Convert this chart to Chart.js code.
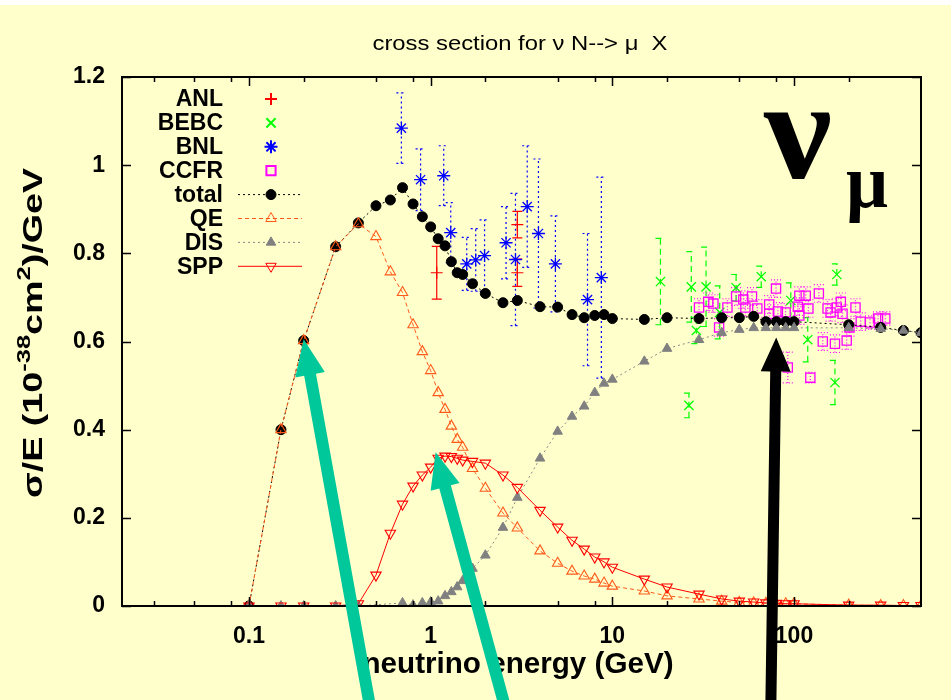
<!DOCTYPE html>
<html>
<head>
<meta charset="utf-8">
<script src="https://cdn.jsdelivr.net/npm/chart.js@4.4.0/dist/chart.umd.min.js"></script>
<style>
  html, body { margin: 0; padding: 0; background: #ffffcc; }
  canvas { display: block; }
</style>
</head>
<body>
<canvas id="myChart" width="951" height="700"></canvas>
<script>
// model curves (GeV, 10^-38 cm^2 / GeV)
const energias = [0.1, 0.15, 0.2, 0.3, 0.4, 0.5, 0.6, 0.7, 0.8, 0.9, 1, 1.1, 1.2, 1.3, 1.4, 1.5, 1.7, 2, 2.5, 3, 4, 5, 6, 7, 8, 9, 10, 15, 20, 30, 40, 50, 60, 70, 80, 90, 100, 200, 300, 400, 500];
const total = [0, 0.40, 0.602, 0.815, 0.869, 0.908, 0.921, 0.949, 0.912, 0.883, 0.860, 0.833, 0.817, 0.781, 0.756, 0.752, 0.731, 0.709, 0.688, 0.693, 0.679, 0.678, 0.661, 0.654, 0.659, 0.661, 0.652, 0.650, 0.654, 0.652, 0.654, 0.654, 0.657, 0.645, 0.645, 0.645, 0.645, 0.638, 0.632, 0.625, 0.620];
const qe = [0, 0.40, 0.602, 0.815, 0.867, 0.838, 0.758, 0.711, 0.638, 0.577, 0.534, 0.484, 0.446, 0.408, 0.378, 0.360, 0.312, 0.267, 0.211, 0.177, 0.125, 0.097, 0.079, 0.068, 0.061, 0.052, 0.045, 0.034, 0.023, 0.016, 0.011, 0.008, 0.007, 0.006, 0.005, 0.005, 0.005, 0.002, 0.001, 0.001, 0.001];
const dis = [0, 0, 0, 0, 0, null, null, 0.007, 0.002, 0.007, 0.009, 0.011, 0.023, 0.032, 0.043, 0.057, 0.085, 0.115, 0.178, 0.246, 0.335, 0.396, 0.430, 0.453, 0.484, 0.505, 0.514, 0.555, 0.584, 0.604, 0.620, 0.627, 0.631, 0.631, 0.631, 0.631, 0.631, 0.631, 0.629, 0.625, 0.620];
const spp = [0, 0, 0, 0, 0.005, 0.070, 0.165, 0.231, 0.272, 0.297, 0.315, 0.335, 0.340, 0.339, 0.335, 0.331, 0.328, 0.324, 0.297, 0.269, 0.217, 0.179, 0.149, 0.129, 0.111, 0.100, 0.088, 0.061, 0.043, 0.027, 0.016, 0.011, 0.009, 0.007, 0.006, 0.005, 0.005, 0.002, 0.002, 0.001, 0.001];

// experiments
const anlE = [1.08, 3.0, 3.0];
const anlV = [0.756, 0.865, 0.756];
const anlErr = [0.06, 0.03, 0.031];

const bebcE = [18.4, 26.4, 27.2, 29, 32.8, 39, 48, 66, 96, 119, 168, 172];
const bebcV = [0.736, 0.455, 0.724, 0.625, 0.724, 0.666, 0.722, 0.747, 0.693, 0.604, 0.507, 0.752];
const bebcErr = [0.098, 0.028, 0.08, 0.03, 0.09, 0.06, 0.03, 0.024, 0.04, 0.05, 0.05, 0.024];

const bnlE = [0.69, 0.88, 1.18, 1.29, 1.58, 1.77, 1.98, 2.6, 2.93, 3.4, 3.92, 4.86, 7.3, 8.7];
const bnlV = [1.084, 0.967, 0.976, 0.847, 0.776, 0.785, 0.795, 0.824, 0.786, 0.906, 0.845, 0.776, 0.695, 0.745];
const bnlErr = [0.08, 0.07, 0.068, 0.068, 0.06, 0.071, 0.081, 0.082, 0.15, 0.138, 0.169, 0.109, 0.15, 0.228];

const ccfrE = [30, 33.7, 36, 38.7, 43, 48, 52.6, 54, 58.7, 62.8, 73, 73, 79.6, 81.5, 89.9, 92.4, 105, 107, 107, 116, 120, 123, 137, 144, 153, 159, 168, 172, 181, 185, 195, 202, 218, 233, 262, 290, 318];
const ccfrV = [0.677, 0.690, 0.686, 0.632, 0.677, 0.702, 0.695, 0.677, 0.702, 0.675, 0.684, 0.663, 0.720, 0.668, 0.666, 0.541, 0.679, 0.704, 0.659, 0.704, 0.675, 0.518, 0.709, 0.600, 0.675, 0.666, 0.595, 0.677, 0.690, 0.663, 0.602, 0.632, 0.677, 0.645, 0.643, 0.652, 0.652];
const ccfrErr = [0.02, 0.02, 0.02, 0.02, 0.02, 0.02, 0.02, 0.02, 0.02, 0.02, 0.02, 0.02, 0.02, 0.02, 0.02, 0.035, 0.02, 0.02, 0.02, 0.02, 0.02, 0.012, 0.02, 0.02, 0.02, 0.02, 0.02, 0.02, 0.02, 0.02, 0.02, 0.02, 0.02, 0.02, 0.015, 0.015, 0.015];

// axis ticks
const xMajor = [0.1, 1, 10, 100];
const xMinor = [0.03, 0.05, 0.08, 0.2, 0.5, 0.8, 2, 5, 8, 20, 50, 80, 200];
const yTicks = [0, 0.2, 0.4, 0.6, 0.8, 1, 1.2];

// annotation arrows, in data units: [tipE, tipV, baseE, baseV, color]
const flechas = [
  [0.2, 0.605, 0.474, -0.25, '#00c89a'],
  [1.065, 0.349, 2.65, -0.25, '#00c89a'],
  [79.8, 0.609, 74.4, -0.25, '#000000']
];

const pares = (xs, ys) => xs.map((x, i) => ({ x: x, y: ys[i] }));

const FONT = '"Liberation Sans", Arial, sans-serif';
const SERIF = '"Liberation Serif", "DejaVu Serif", serif';
const vacio = 'rgba(0,0,0,0)';

const datasets = [
  { label: 'ANL', data: pares(anlE, anlV), errores: anlErr, errDash: [], errColor: '#ff0000',
    pointStyle: 'cross', pointRadius: 6, borderColor: '#ff0000', pointBorderWidth: 1.2, showLine: false },
  { label: 'BEBC', data: pares(bebcE, bebcV), errores: bebcErr, errDash: [6, 4], errColor: '#00ff00',
    pointStyle: 'crossRot', pointRadius: 6.5, borderColor: '#00ff00', pointBorderWidth: 1.3, showLine: false },
  { label: 'BNL', data: pares(bnlE, bnlV), errores: bnlErr, errDash: [2, 3], errColor: '#0000ff',
    pointStyle: 'star', pointRadius: 6.5, borderColor: '#0000ff', pointBorderWidth: 1.3, showLine: false },
  { label: 'CCFR', data: pares(ccfrE, ccfrV), errores: ccfrErr, errDash: [1, 2], errColor: '#ff00ff',
    pointStyle: 'rect', pointRadius: 6.5, borderColor: '#ff00ff', pointBackgroundColor: vacio, pointBorderWidth: 1.3, showLine: false },
  { label: 'total', data: pares(energias, total), showLine: true, borderColor: '#000000', borderWidth: 1, borderDash: [2, 3],
    pointStyle: 'circle', pointRadius: 5, pointBackgroundColor: '#000000', pointBorderColor: '#000000' },
  { label: 'QE', data: pares(energias, qe), showLine: true, borderColor: '#ff5a1a', borderWidth: 1, borderDash: [4, 3],
    pointStyle: 'triangle', pointRadius: 6, pointBackgroundColor: vacio, pointBorderColor: '#ff5a1a', pointBorderWidth: 1.1 },
  { label: 'DIS', data: pares(energias, dis), showLine: true, spanGaps: true, borderColor: '#888888', borderWidth: 1, borderDash: [2, 3],
    pointStyle: 'triangle', pointRadius: 5.5, pointBackgroundColor: '#808080', pointBorderColor: '#808080' },
  { label: 'SPP', data: pares(energias, spp), showLine: true, borderColor: '#ff0000', borderWidth: 1,
    pointStyle: 'triangle', pointRotation: 180, pointRadius: 6, pointBackgroundColor: vacio, pointBorderColor: '#ff0000', pointBorderWidth: 1.1 }
];
// gnuplot draws later curves on top
datasets.forEach((d, i) => { d.order = datasets.length - i; d.pointHoverRadius = d.pointRadius; });

function textoAjustado(ctx, texto, cx, cy, ancho, font, base) {
  ctx.font = font;
  const w = ctx.measureText(texto).width;
  ctx.save();
  ctx.translate(cx, cy);
  ctx.scale(ancho / w, 1);
  ctx.textAlign = 'center';
  ctx.textBaseline = base || 'middle';
  ctx.fillText(texto, 0, 0);
  ctx.restore();
}

const fondo = {
  id: 'fondo',
  beforeDraw(chart) {
    const ctx = chart.ctx;
    ctx.save();
    ctx.fillStyle = '#ffffcc';
    ctx.fillRect(0, 0, chart.width, chart.height);
    ctx.fillStyle = '#ffffff';
    ctx.fillRect(0, 0, chart.width, 5);
    ctx.restore();
  }
};

const barras = {
  id: 'barras',
  beforeDatasetsDraw(chart) {
    const ctx = chart.ctx;
    const xs = chart.scales.x, ys = chart.scales.y;
    ctx.save();
    chart.data.datasets.forEach(ds => {
      if (!ds.errores) return;
      ctx.strokeStyle = ds.errColor;
      ctx.lineWidth = 1.2;
      ctx.setLineDash(ds.errDash);
      ds.data.forEach((p, i) => {
        const px = xs.getPixelForValue(p.x);
        const y1 = ys.getPixelForValue(p.y - ds.errores[i]);
        const y2 = ys.getPixelForValue(p.y + ds.errores[i]);
        ctx.beginPath();
        ctx.moveTo(px, y1); ctx.lineTo(px, y2);
        ctx.moveTo(px - 5, y1); ctx.lineTo(px + 5, y1);
        ctx.moveTo(px - 5, y2); ctx.lineTo(px + 5, y2);
        ctx.stroke();
      });
    });
    ctx.restore();
  }
};

const marco = {
  id: 'marco',
  afterDraw(chart) {
    const ctx = chart.ctx;
    const a = chart.chartArea;
    const xs = chart.scales.x, ys = chart.scales.y;
    ctx.save();
    ctx.strokeStyle = '#000000';
    ctx.lineWidth = 1.5;
    ctx.beginPath();
    xMajor.forEach(v => {
      const px = Math.round(xs.getPixelForValue(v)) + 0.5;
      ctx.moveTo(px, a.bottom); ctx.lineTo(px, a.bottom - 9);
      ctx.moveTo(px, a.top); ctx.lineTo(px, a.top + 9);
    });
    xMinor.forEach(v => {
      const px = Math.round(xs.getPixelForValue(v)) + 0.5;
      ctx.moveTo(px, a.bottom); ctx.lineTo(px, a.bottom - 5);
      ctx.moveTo(px, a.top); ctx.lineTo(px, a.top + 5);
    });
    yTicks.forEach(v => {
      const py = Math.round(ys.getPixelForValue(v)) + 0.5;
      ctx.moveTo(a.left, py); ctx.lineTo(a.left + 9, py);
      ctx.moveTo(a.right, py); ctx.lineTo(a.right - 9, py);
    });
    ctx.stroke();
    ctx.lineWidth = 2;
    ctx.strokeRect(a.left, a.top, a.right - a.left, a.bottom - a.top);

    // legend, gnuplot style
    const H = Chart.helpers;
    chart.data.datasets.forEach((ds, i) => {
      const y = a.top + 22 + i * 23.9;
      ctx.fillStyle = '#000000';
      ctx.font = 'bold 23px ' + FONT;
      ctx.textAlign = 'right';
      ctx.textBaseline = 'middle';
      ctx.fillText(ds.label, a.left + 101, y + 1);
      if (ds.showLine) {
        ctx.strokeStyle = ds.borderColor;
        ctx.lineWidth = ds.borderWidth;
        ctx.setLineDash(ds.borderDash || []);
        ctx.beginPath();
        ctx.moveTo(a.left + 116, y); ctx.lineTo(a.left + 180, y);
        ctx.stroke();
        ctx.setLineDash([]);
      }
      ctx.strokeStyle = ds.pointBorderColor || ds.borderColor;
      ctx.fillStyle = ds.pointBackgroundColor || vacio;
      H.drawPoint(ctx, { pointStyle: ds.pointStyle, radius: ds.pointRadius, rotation: ds.pointRotation || 0,
        borderWidth: ds.pointBorderWidth || 1 }, a.left + 149, y);
    });

    // title
    ctx.fillStyle = '#000000';
    textoAjustado(ctx, 'cross section for \u03bd N--> \u03bc  X', 520, 44, 295, '20px ' + FONT);
    // x axis title
    textoAjustado(ctx, 'neutrino energy (GeV)', 518, 665, 311, 'bold 29px ' + FONT);

    // y axis title with superscripts
    const partes = [['\u03c3/E (10', 0], ['-38', 1], ['cm', 0], ['2', 1], [')/GeV', 0]];
    const fNormal = 'bold 28px ' + FONT, fSup = 'bold 19px ' + FONT;
    let ancho = 0;
    partes.forEach(p => { ctx.font = p[1] ? fSup : fNormal; ancho += ctx.measureText(p[0]).width; });
    ctx.save();
    ctx.translate(42, 333);
    ctx.rotate(-Math.PI / 2);
    ctx.scale(330 / ancho, 1);
    ctx.textAlign = 'left';
    ctx.textBaseline = 'alphabetic';
    let cx = -ancho / 2;
    partes.forEach(p => {
      ctx.font = p[1] ? fSup : fNormal;
      ctx.fillText(p[0], cx, p[1] ? -12 : 0);
      cx += ctx.measureText(p[0]).width;
    });
    ctx.restore();

    // big nu_mu label
    textoAjustado(ctx, '\u03bd', 798, 178, 68, 'bold 142px ' + SERIF, 'alphabetic');
    textoAjustado(ctx, '\u03bc', 867, 207, 42, 'bold 76px ' + SERIF, 'alphabetic');

    // arrows
    flechas.forEach(f => {
      const x2 = xs.getPixelForValue(f[0]), y2 = ys.getPixelForValue(f[1]);
      const x1 = xs.getPixelForValue(f[2]), y1 = ys.getPixelForValue(f[3]);
      const ang = Math.atan2(y2 - y1, x2 - x1);
      const largo = Math.hypot(x2 - x1, y2 - y1);
      const negro = f[4] === '#000000';
      const sw = negro ? 11 : 12, hw = 30, hl = negro ? 34 : 36;
      ctx.save();
      ctx.translate(x2, y2);
      ctx.rotate(ang);
      ctx.beginPath();
      ctx.moveTo(0, 0);
      ctx.lineTo(-hl, hw / 2);
      ctx.lineTo(-hl, sw / 2);
      ctx.lineTo(-largo, sw / 2);
      ctx.lineTo(-largo, -sw / 2);
      ctx.lineTo(-hl, -sw / 2);
      ctx.lineTo(-hl, -hw / 2);
      ctx.closePath();
      ctx.fillStyle = f[4];
      ctx.fill();
      ctx.restore();
    });
    ctx.restore();
  }
};

const ctx = document.querySelector('#myChart');
const myChart = new Chart(ctx, {
  type: 'scatter',
  data: { datasets: datasets },
  options: {
    responsive: false,
    animation: false,
    devicePixelRatio: 1,
    layout: { padding: { top: 77, right: 30, left: 0, bottom: 0 } },
    plugins: { legend: { display: false }, tooltip: { enabled: false }, title: { display: false } },
    scales: {
      x: {
        type: 'logarithmic',
        bounds: 'data',
        min: 0.02,
        max: 500,
        grid: { display: false },
        border: { display: false },
        afterBuildTicks: (scale) => { scale.ticks = xMajor.map(v => ({ value: v })); },
        afterFit: (scale) => { scale.height = 94; },
        ticks: {
          autoSkip: false, maxRotation: 0, padding: 9, color: '#000000',
          font: { family: FONT, size: 23, weight: 'bold' },
          callback: (v) => String(v)
        }
      },
      y: {
        min: 0,
        max: 1.2,
        grid: { display: false },
        border: { display: false },
        afterBuildTicks: (scale) => { scale.ticks = yTicks.map(v => ({ value: v })); },
        afterFit: (scale) => { scale.width = 122; },
        ticks: {
          padding: 9, color: '#000000',
          font: { family: FONT, size: 23, weight: 'bold' },
          callback: (v) => String(Math.round(v * 10) / 10)
        }
      }
    }
  },
  plugins: [fondo, barras, marco]
});
</script>
</body>
</html>
